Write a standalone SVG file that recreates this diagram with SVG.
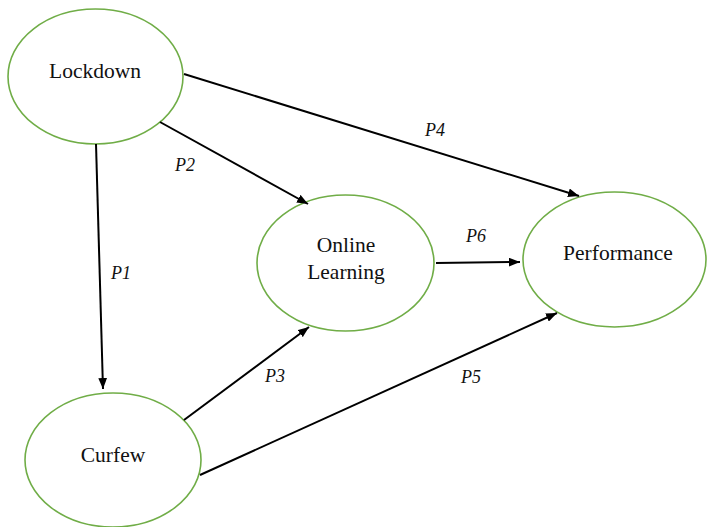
<svg xmlns="http://www.w3.org/2000/svg" width="707" height="527" viewBox="0 0 707 527">
<style>
.node ellipse{fill:#fff;stroke:#70AD47;stroke-width:1.6}
.node text{font-size:21.5px;fill:#111;text-anchor:middle}
.conn line{stroke:#000;stroke-width:2;marker-end:url(#ah)}
.lbl{font-size:18px;font-style:italic;fill:#111;text-anchor:middle}
</style>
<defs>
<marker id="ah" viewBox="0 0 10 8" refX="10" refY="4" markerWidth="5.5" markerHeight="4.5" orient="auto" markerUnits="strokeWidth">
<path d="M0,0 L10,4 L0,8 Z" fill="#000"/>
</marker>
</defs>
<rect width="707" height="527" fill="#fff"/>
<g font-family="'Liberation Serif', 'DejaVu Serif', serif">
<g id="lockdown" class="node"><ellipse cx="95.5" cy="76.5" rx="87.5" ry="67.5"/><text x="95" y="78">Lockdown</text></g>
<g id="online-learning" class="node"><ellipse cx="345.5" cy="263" rx="88.5" ry="68"/><text x="346" y="252">Online</text><text x="346" y="279">Learning</text></g>
<g id="performance" class="node"><ellipse cx="614.5" cy="259.5" rx="91.5" ry="67.5"/><text x="618" y="260">Performance</text></g>
<g id="curfew" class="node"><ellipse cx="113" cy="460" rx="88" ry="67"/><text x="113" y="462">Curfew</text></g>
<g id="connectors" class="conn">
<line x1="96" y1="144" x2="103" y2="389"/>
<line x1="160" y1="122" x2="308" y2="204"/>
<line x1="184" y1="74" x2="579" y2="196"/>
<line x1="436" y1="263" x2="520" y2="262"/>
<line x1="184" y1="420" x2="309" y2="327"/>
<line x1="200" y1="475" x2="557" y2="313"/>
</g>
<g id="labels">
<text class="lbl" x="121" y="279">P1</text>
<text class="lbl" x="185" y="171">P2</text>
<text class="lbl" x="275" y="382">P3</text>
<text class="lbl" x="435" y="136">P4</text>
<text class="lbl" x="471" y="383">P5</text>
<text class="lbl" x="476" y="242">P6</text>
</g>
</g>
</svg>
